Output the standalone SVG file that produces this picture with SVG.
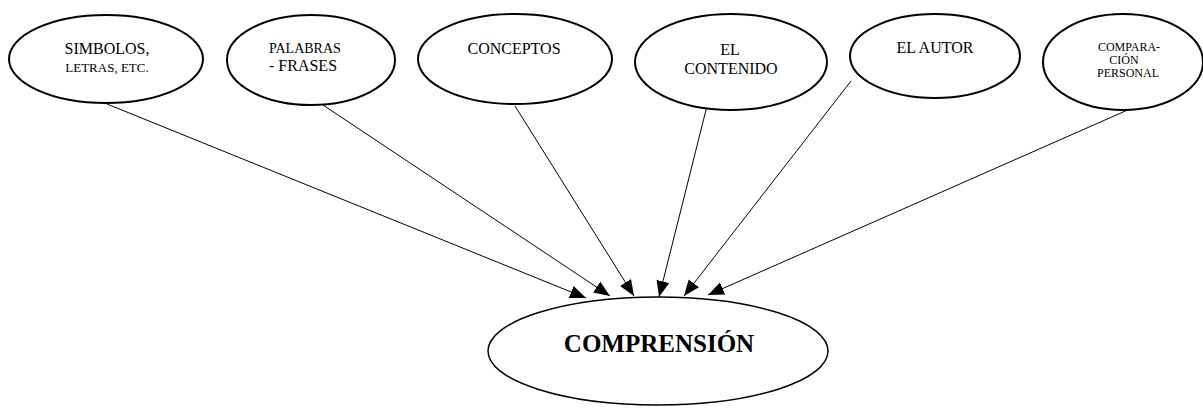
<svg xmlns="http://www.w3.org/2000/svg" width="1203" height="408" viewBox="0 0 1203 408">
<style>
.n{fill:#fff;stroke:#000;stroke-width:2}
.m{fill:#fff;stroke:#000;stroke-width:1.5}
text{font-family:'Liberation Serif',serif;fill:#000;text-anchor:middle}
.c line{stroke:#000;stroke-width:1}
</style>
<defs>
<marker id="a" markerUnits="userSpaceOnUse" markerWidth="18" markerHeight="14" refX="16" refY="6.5" orient="auto">
<path d="M0,0 L16,6.5 L0,13 Z" fill="#000"/>
</marker>
</defs>
<rect width="1203" height="408" fill="#fff"/>
<g id="connectors" class="c">
<line x1="107" y1="104" x2="586" y2="298" marker-end="url(#a)"/>
<line x1="323" y1="105" x2="610" y2="296" marker-end="url(#a)"/>
<line x1="515" y1="106" x2="634" y2="296" marker-end="url(#a)"/>
<line x1="707" y1="106" x2="659" y2="297" marker-end="url(#a)"/>
<line x1="851" y1="81" x2="684" y2="296" marker-end="url(#a)"/>
<line x1="1139" y1="105" x2="708" y2="295" marker-end="url(#a)"/>
</g>
<g id="n1">
<ellipse class="n" cx="106" cy="59" rx="97" ry="44"/>
<text x="107" y="54" font-size="16">SIMBOLOS,</text>
<text x="107" y="72" font-size="13">LETRAS, ETC.</text>
</g>
<g id="n2">
<ellipse class="n" cx="311" cy="60" rx="84" ry="45"/>
<text x="269" y="53" font-size="14" style="text-anchor:start">PALABRAS</text>
<text x="269" y="71" font-size="16" style="text-anchor:start">- FRASES</text>
</g>
<g id="n3">
<ellipse class="n" cx="515" cy="59" rx="97" ry="45"/>
<text x="514" y="54" font-size="16">CONCEPTOS</text>
</g>
<g id="n4">
<ellipse class="n" cx="731" cy="62" rx="96" ry="48"/>
<text x="730" y="55" font-size="16">EL</text>
<text x="731" y="74" font-size="16">CONTENIDO</text>
</g>
<g id="n5">
<ellipse class="n" cx="935" cy="56" rx="85" ry="42"/>
<text x="935" y="53" font-size="16">EL AUTOR</text>
</g>
<g id="n6">
<ellipse class="n" cx="1123" cy="62" rx="80" ry="48"/>
<text x="1129" y="51" font-size="12">COMPARA-</text>
<text x="1124" y="64" font-size="12">CIÓN</text>
<text x="1128" y="77" font-size="12">PERSONAL</text>
</g>
<g id="n7">
<ellipse class="m" cx="658" cy="351" rx="170" ry="54"/>
<text x="659" y="352" font-size="25" font-weight="bold">COMPRENSIÓN</text>
</g>
</svg>
